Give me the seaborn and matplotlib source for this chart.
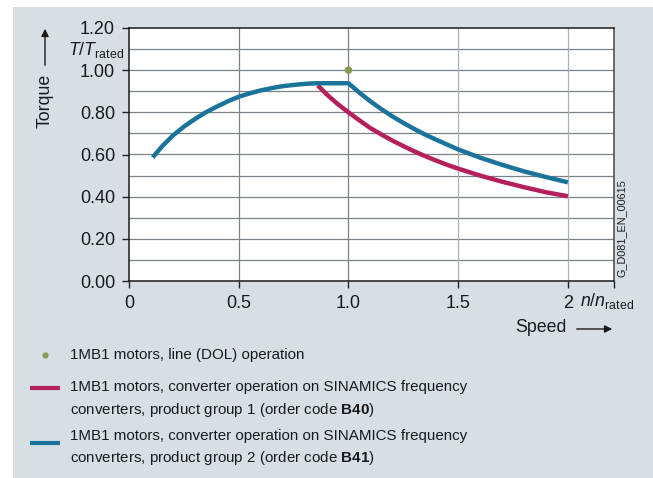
import matplotlib
matplotlib.use("Agg")
import matplotlib.pyplot as plt
from matplotlib.patches import Rectangle, FancyArrowPatch
from matplotlib.lines import Line2D
import seaborn as sns
import pandas as pd

# --- data -------------------------------------------------------------
# product group 2 (B41) torque characteristic
b41_speed = [0.108, 0.15, 0.2, 0.25, 0.3, 0.35, 0.4, 0.45, 0.5, 0.55, 0.6, 0.65,
             0.7, 0.75, 0.8, 0.855, 1.0, 1.05, 1.1, 1.15, 1.2, 1.25, 1.3, 1.35,
             1.4, 1.45, 1.5, 1.6, 1.7, 1.8, 1.9, 2.0]
b41_torque = [0.586, 0.638, 0.690, 0.732, 0.768, 0.800, 0.827, 0.852, 0.874, 0.890,
              0.904, 0.915, 0.924, 0.930, 0.935, 0.938, 0.938, 0.893, 0.852, 0.815,
              0.781, 0.750, 0.721, 0.694, 0.670, 0.647, 0.624, 0.585, 0.551, 0.520,
              0.493, 0.468]
# product group 1 (B40) torque characteristic
b40_speed = [0.86, 0.9, 0.95, 1.0, 1.05, 1.1, 1.15, 1.2, 1.25, 1.3, 1.35, 1.4,
             1.45, 1.5, 1.6, 1.7, 1.8, 1.9, 2.0]
b40_torque = [0.928, 0.886, 0.840, 0.800, 0.762, 0.725, 0.695, 0.666, 0.640, 0.615,
              0.592, 0.571, 0.551, 0.533, 0.500, 0.471, 0.445, 0.421, 0.402]
# line (DOL) operating point
dol_speed = [1.0]
dol_torque = [1.0]

y_ticks = [0.0, 0.2, 0.4, 0.6, 0.8, 1.0, 1.2]
y_labels = ["0.00", "0.20", "0.40", "0.60", "0.80", "1.00", "1.20"]
x_ticks = [0.0, 0.5, 1.0, 1.5, 2.0, 2.21]
x_labels = ["0", "0.5", "1.0", "1.5", "2", ""]

legend_dol = "1MB1 motors, line (DOL) operation"
legend_b40 = ["1MB1 motors, converter operation on SINAMICS frequency",
              r"converters, product group 1 (order code $\mathbf{B40}$)"]
legend_b41 = ["1MB1 motors, converter operation on SINAMICS frequency",
              r"converters, product group 2 (order code $\mathbf{B41}$)"]

BLUE = "#19739b"
RED = "#b5205c"
GREEN = "#8a9b55"
PANEL = "#d8dfe4"
GRID = "#7a8288"
INK = "#1a1a1a"

# --- style --------------------------------------------------------------
sns.set_theme(style="white")
plt.rcParams["font.family"] = ["Liberation Sans", "DejaVu Sans"]
plt.rcParams["mathtext.fontset"] = "custom"
plt.rcParams["mathtext.rm"] = "Liberation Sans"
plt.rcParams["mathtext.it"] = "Liberation Sans:italic"
plt.rcParams["mathtext.bf"] = "Liberation Sans:bold"

W, H = 653, 478
fig = plt.figure(figsize=(W / 100, H / 100), dpi=100)
fig.patch.set_facecolor("white")


def fx(px):
    return px / W


def fy(py):
    return 1 - py / H


fig.add_artist(Rectangle((fx(13), 0), fx(640), 1 - 7 / H, transform=fig.transFigure,
                         facecolor=PANEL, edgecolor="none", zorder=0))

ax = fig.add_axes([fx(129), fy(281), fx(485), 253 / H])
ax.set_facecolor("white")
ax.set_zorder(1)

# grid
for yv in [0.1 * i for i in range(1, 12)]:
    ax.axhline(yv, color=GRID, lw=0.9, zorder=1)
for xv, c in zip([0.5, 1.0, 1.5, 2.0], [GRID, GRID, "#a9b0b6", "#a9b0b6"]):
    ax.axvline(xv, color=c, lw=0.9, zorder=1)

df41 = pd.DataFrame({"speed": b41_speed, "torque": b41_torque})
df40 = pd.DataFrame({"speed": b40_speed, "torque": b40_torque})
dfdol = pd.DataFrame({"speed": dol_speed, "torque": dol_torque})

sns.lineplot(data=df40, x="speed", y="torque", ax=ax, color=RED, lw=3.2,
             sort=False, zorder=3, solid_capstyle="butt", solid_joinstyle="round")
sns.lineplot(data=df41, x="speed", y="torque", ax=ax, color=BLUE, lw=3.2,
             sort=False, zorder=4, solid_capstyle="butt", solid_joinstyle="round")
sns.scatterplot(data=dfdol, x="speed", y="torque", ax=ax, color=GREEN, s=30,
                edgecolor="none", zorder=5)

ax.set_xlim(0, 2.21)
ax.set_ylim(0, 1.2)
ax.set_xticks(x_ticks)
ax.set_xticklabels(x_labels)
ax.set_yticks(y_ticks)
ax.set_yticklabels(y_labels)
ax.set_xlabel("")
ax.set_ylabel("")
ax.tick_params(axis="both", direction="out", length=5, width=1, color="#222222",
               labelsize=13, labelcolor=INK, pad=5, left=True, bottom=True)
for side, sp in ax.spines.items():
    sp.set_visible(True)
    sp.set_color(INK)
    sp.set_linewidth(1.1)
ax.spines["right"].set_color("#444444")

# axis titles
fig.text(fx(45), fy(101), "Torque", rotation=90, ha="center", va="center",
         fontsize=12.8, color=INK)
fig.add_artist(FancyArrowPatch((fx(45), fy(68)), (fx(45), fy(26)),
                               transform=fig.transFigure, arrowstyle="-|>",
                               mutation_scale=11, lw=1.0, color=INK))
fig.text(fx(124), fy(50), r"$T/T_{\mathrm{rated}}$", ha="right", va="center",
         fontsize=12.8, color=INK)
fig.text(fx(580), fy(306), r"$n/n_{\mathrm{rated}}$", ha="left", va="baseline",
         fontsize=12.8, color=INK)
fig.text(fx(567), fy(328), "Speed", ha="right", va="center", fontsize=12.8,
         color=INK)
fig.add_artist(FancyArrowPatch((fx(574), fy(329)), (fx(615), fy(329)),
                               transform=fig.transFigure, arrowstyle="-|>",
                               mutation_scale=11, lw=1.0, color=INK))
fig.text(fx(622), fy(228), "G_D081_EN_00615", rotation=90, ha="center",
         va="center", fontsize=7.8, color=INK)

# legend
LEG_FS = 10.9
fig.add_artist(Line2D([fx(45)], [fy(355)], marker="o", markersize=4.5,
                      color=GREEN, markeredgewidth=0, transform=fig.transFigure))
fig.text(fx(70), fy(355), legend_dol, ha="left", va="center", fontsize=LEG_FS,
         color=INK)
fig.add_artist(Line2D([fx(30), fx(60)], [fy(388), fy(388)], color=RED, lw=3,
                      transform=fig.transFigure, solid_capstyle="butt"))
fig.text(fx(70), fy(387), legend_b40[0], ha="left", va="center", fontsize=LEG_FS,
         color=INK)
fig.text(fx(70), fy(410), legend_b40[1], ha="left", va="center", fontsize=LEG_FS,
         color=INK)
fig.add_artist(Line2D([fx(30), fx(60)], [fy(443), fy(443)], color=BLUE, lw=3,
                      transform=fig.transFigure, solid_capstyle="butt"))
fig.text(fx(70), fy(436), legend_b41[0], ha="left", va="center", fontsize=LEG_FS,
         color=INK)
fig.text(fx(70), fy(458), legend_b41[1], ha="left", va="center", fontsize=LEG_FS,
         color=INK)

fig.savefig("out.png", dpi=100, facecolor="white")
